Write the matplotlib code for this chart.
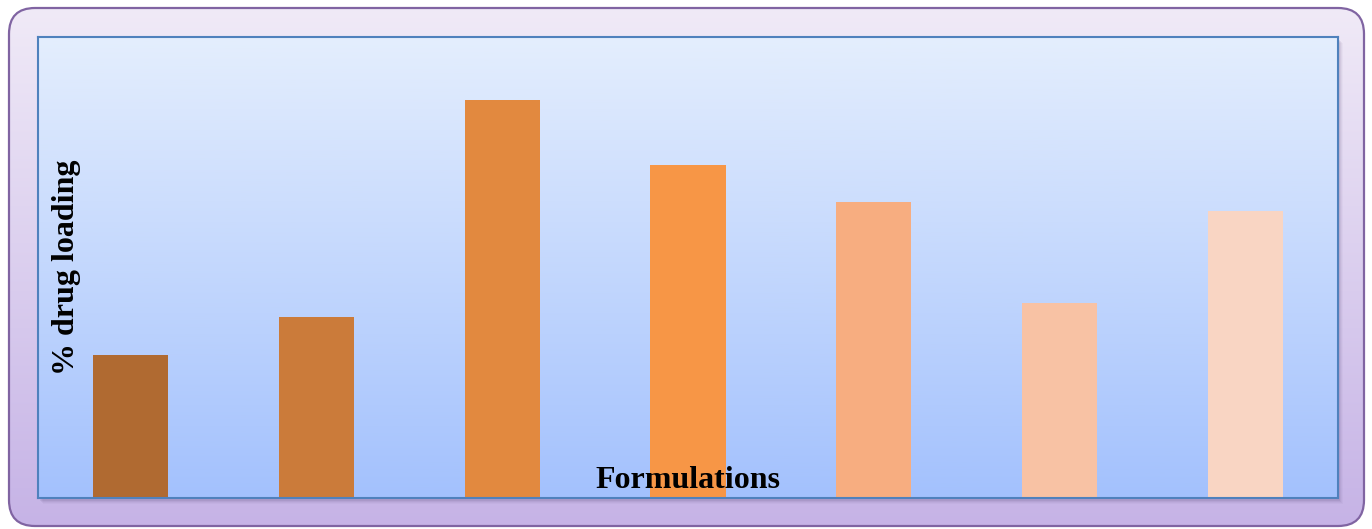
import numpy as np
import matplotlib.pyplot as plt
from matplotlib.patches import FancyBboxPatch, Rectangle
from matplotlib.colors import LinearSegmentedColormap

# % drug loading per formulation
formulations = ["F1", "F2", "F3", "F4", "F5", "F6", "F7"]
drug_loading = [31.0, 39.3, 86.3, 72.2, 64.2, 42.3, 62.3]
bar_colors = ["#B06A31", "#CB7B3A", "#E2893F", "#F79646",
              "#F7AD80", "#F8C2A4", "#F9D5C3"]

W, H = 1372, 529
fig = plt.figure(figsize=(W / 100, H / 100), dpi=100)
fig.patch.set_facecolor("white")

# background layer: rounded frame with a vertical lavender gradient
bg = fig.add_axes([0, 0, 1, 1])
bg.set_xlim(0, W)
bg.set_ylim(0, H)
bg.axis("off")

frame = FancyBboxPatch((9, 3), W - 17, H - 11,
                       boxstyle="round,pad=0,rounding_size=26",
                       facecolor="none", edgecolor="#8064A2", linewidth=1.6, zorder=3)
bg.add_patch(frame)
outer_cmap = LinearSegmentedColormap.from_list("outer", ["#C6B3E6", "#F0EAF7"])
grad = np.linspace(0, 1, 256).reshape(-1, 1)
img = bg.imshow(grad, cmap=outer_cmap, origin="lower", aspect="auto",
                extent=(9, W - 8, 3, H - 8), zorder=1)
img.set_clip_path(frame)

# soft shadow under the plot area
for i, a in enumerate([0.10, 0.08, 0.06, 0.04]):
    bg.add_patch(Rectangle((38 + 2 + i, 31 - 3 - i), 1300, 461,
                           facecolor="#5A4A7A", edgecolor="none", alpha=a, zorder=2))

ax = fig.add_axes([38 / W, 31 / H, 1300 / W, 461 / H])
x = np.arange(len(formulations))
ax.set_xlim(-0.5, len(formulations) - 0.5)
ax.set_ylim(0, 100)

inner_cmap = LinearSegmentedColormap.from_list("inner", ["#A3C1FD", "#E4EEFD"])
ax.imshow(grad, cmap=inner_cmap, origin="lower", aspect="auto",
          extent=(-0.5, len(formulations) - 0.5, 0, 100), zorder=0)

ax.bar(x, drug_loading, width=0.405, color=bar_colors, zorder=2)

for s in ax.spines.values():
    s.set_color("#4F81BD")
    s.set_linewidth(1.5)
ax.set_xticks([])
ax.set_yticks([])

font = dict(family="Liberation Serif", fontweight="bold", fontsize=23)
ax.text(0.022, 0.50, "% drug loading", transform=ax.transAxes, rotation=90,
        ha="center", va="center", zorder=5, **font)
ax.text(0.5, 0.037, "Formulations", transform=ax.transAxes,
        ha="center", va="center", zorder=5, **font)

fig.savefig("out.png", dpi=100)
